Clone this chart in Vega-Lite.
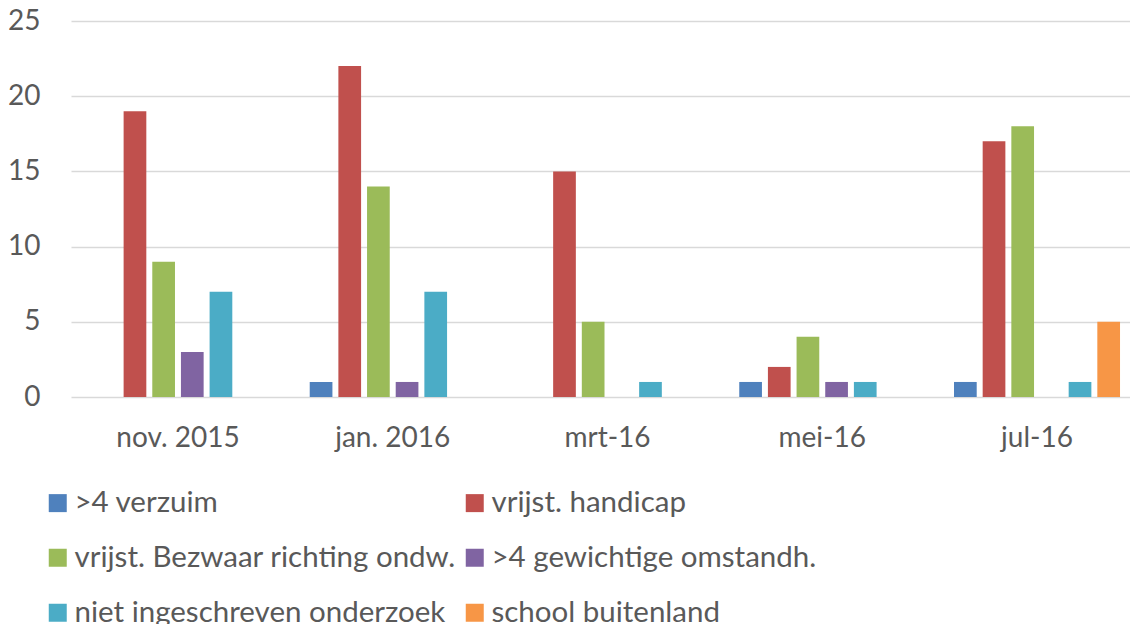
{
  "$schema": "https://vega.github.io/schema/vega-lite/v6.json",
  "width": 1059,
  "height": 376,
  "autosize": "none",
  "padding": {"left": 71, "top": 21, "right": 0, "bottom": 227},
  "background": "white",
  "config": {
    "font": "Lato",
    "view": {"stroke": null},
    "axis": {"labelColor": "#595959", "labelFontSize": 28, "labelFont": "Lato", "title": null, "ticks": false, "domain": false}
  },
  "data": {
    "values": [
      {"month": "nov. 2015", "series": ">4 verzuim", "value": 0},
      {"month": "nov. 2015", "series": "vrijst. handicap", "value": 19},
      {"month": "nov. 2015", "series": "vrijst. Bezwaar richting ondw.", "value": 9},
      {"month": "nov. 2015", "series": ">4 gewichtige omstandh.", "value": 3},
      {"month": "nov. 2015", "series": "niet ingeschreven onderzoek", "value": 7},
      {"month": "nov. 2015", "series": "school buitenland", "value": 0},
      {"month": "jan. 2016", "series": ">4 verzuim", "value": 1},
      {"month": "jan. 2016", "series": "vrijst. handicap", "value": 22},
      {"month": "jan. 2016", "series": "vrijst. Bezwaar richting ondw.", "value": 14},
      {"month": "jan. 2016", "series": ">4 gewichtige omstandh.", "value": 1},
      {"month": "jan. 2016", "series": "niet ingeschreven onderzoek", "value": 7},
      {"month": "jan. 2016", "series": "school buitenland", "value": 0},
      {"month": "mrt-16", "series": ">4 verzuim", "value": 0},
      {"month": "mrt-16", "series": "vrijst. handicap", "value": 15},
      {"month": "mrt-16", "series": "vrijst. Bezwaar richting ondw.", "value": 5},
      {"month": "mrt-16", "series": ">4 gewichtige omstandh.", "value": 0},
      {"month": "mrt-16", "series": "niet ingeschreven onderzoek", "value": 1},
      {"month": "mrt-16", "series": "school buitenland", "value": 0},
      {"month": "mei-16", "series": ">4 verzuim", "value": 1},
      {"month": "mei-16", "series": "vrijst. handicap", "value": 2},
      {"month": "mei-16", "series": "vrijst. Bezwaar richting ondw.", "value": 4},
      {"month": "mei-16", "series": ">4 gewichtige omstandh.", "value": 1},
      {"month": "mei-16", "series": "niet ingeschreven onderzoek", "value": 1},
      {"month": "mei-16", "series": "school buitenland", "value": 0},
      {"month": "jul-16", "series": ">4 verzuim", "value": 1},
      {"month": "jul-16", "series": "vrijst. handicap", "value": 17},
      {"month": "jul-16", "series": "vrijst. Bezwaar richting ondw.", "value": 18},
      {"month": "jul-16", "series": ">4 gewichtige omstandh.", "value": 0},
      {"month": "jul-16", "series": "niet ingeschreven onderzoek", "value": 1},
      {"month": "jul-16", "series": "school buitenland", "value": 5}
    ]
  },
  "mark": {"type": "bar"},
  "encoding": {
    "x": {
      "field": "month", "type": "nominal",
      "sort": ["nov. 2015", "jan. 2016", "mrt-16", "mei-16", "jul-16"],
      "scale": {"paddingInner": 0.227, "paddingOuter": 0.079, "align": 0.706},
      "axis": {"labelAngle": 0, "labelPadding": 27, "grid": false}
    },
    "xOffset": {
      "field": "series", "type": "nominal",
      "sort": [">4 verzuim", "vrijst. handicap", "vrijst. Bezwaar richting ondw.", ">4 gewichtige omstandh.", "niet ingeschreven onderzoek", "school buitenland"],
      "scale": {"paddingInner": 0.208, "paddingOuter": 0}
    },
    "y": {
      "field": "value", "type": "quantitative",
      "scale": {"domain": [0, 25], "nice": false},
      "axis": {"values": [0, 5, 10, 15, 20, 25], "gridColor": "#d9d9d9", "gridWidth": 1.5, "labelPadding": 31}
    },
    "color": {
      "field": "series", "type": "nominal",
      "sort": [">4 verzuim", "vrijst. handicap", "vrijst. Bezwaar richting ondw.", ">4 gewichtige omstandh.", "niet ingeschreven onderzoek", "school buitenland"],
      "scale": {
        "domain": [">4 verzuim", "vrijst. handicap", "vrijst. Bezwaar richting ondw.", ">4 gewichtige omstandh.", "niet ingeschreven onderzoek", "school buitenland"],
        "range": ["#4f81bd", "#c0504d", "#9bbb59", "#8064a2", "#4bacc6", "#f79646"]
      },
      "legend": {
        "orient": "none", "legendX": -28, "legendY": 467,
        "direction": "horizontal",
        "columns": 2, "title": null,
        "symbolType": "square", "symbolSize": 324, "symbolStrokeWidth": 0, "symbolOpacity": 1,
        "labelFontSize": 29.5, "labelFont": "Lato", "labelColor": "#595959", "labelLimit": 0,
        "labelOffset": 2, "rowPadding": 24, "columnPadding": 4
      }
    }
  }
}
